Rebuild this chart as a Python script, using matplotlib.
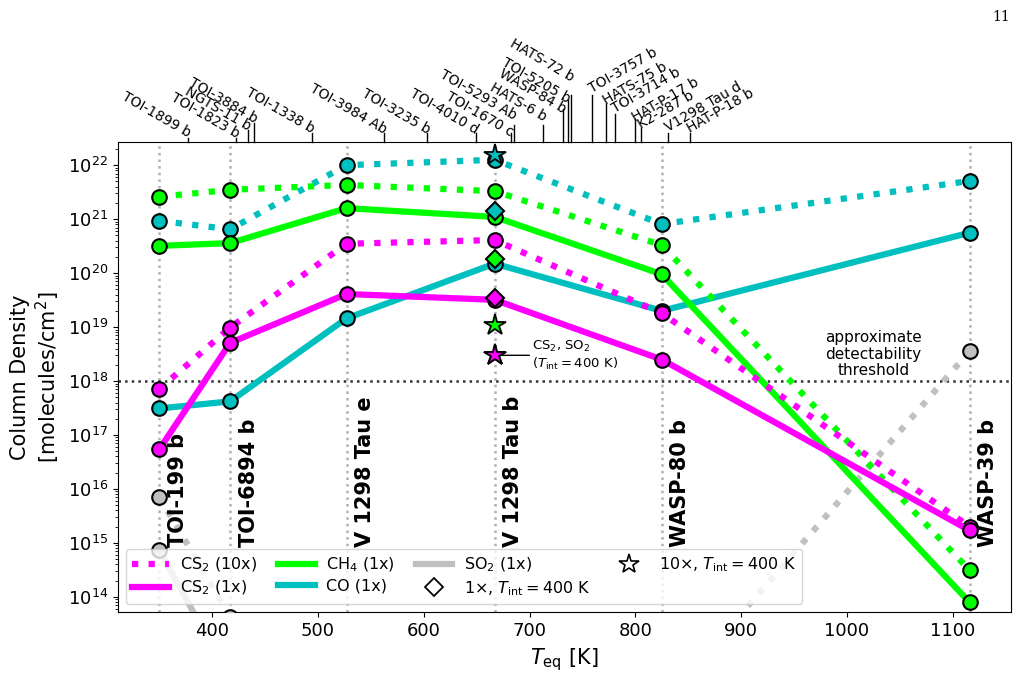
import numpy as np
import matplotlib
matplotlib.use('Agg')
import matplotlib.pyplot as plt
from matplotlib.lines import Line2D
from matplotlib.transforms import blended_transform_factory

# planets with chemistry models
planets = ['TOI-199 b', 'TOI-6894 b', 'V 1298 Tau e', 'V 1298 Tau b', 'WASP-80 b', 'WASP-39 b']
teq = [350, 417, 527, 667, 825, 1116]

# column densities [molecules/cm^2]
cs2_10x = [7.1e17, 9.8e18, 3.5e20, 4.1e20, 1.8e19, 2.0e15]
cs2_1x = [5.4e16, 5.1e18, 4.1e19, 3.2e19, 2.5e18, 1.7e15]
ch4_10x = [2.6e21, 3.5e21, 4.3e21, 3.3e21, 3.3e20, 3.1e14]
ch4_1x = [3.2e20, 3.6e20, 1.6e21, 1.1e21, 9.5e19, 7.9e13]
co_10x = [9.3e20, 6.5e20, 1.0e22, 1.26e22, 8.1e20, 5.1e21]
co_1x = [3.1e17, 4.2e17, 1.45e19, 1.5e20, 2.0e19, 5.6e20]
so2_10x = [7.2e15, 4.3e13, 1e11, 1e11, 1e12, 3.6e18]
so2_1x = [7.4e14, 3e12, 1e11, 1e11, 1e11, 1e11]

# V1298 Tau b with T_int = 400 K
tint_teq = 667
tint_1x = {'CS2': 3.4e19, 'CH4': 1.86e20, 'CO': 1.4e21}
tint_10x = {'CS2': 3.0e18, 'SO2': 3.0e18, 'CH4': 1.1e19, 'CO': 1.55e22}

threshold = 1e18

# other planets marked along the top
top_names = ['TOI-1899 b', 'TOI-1823 b', 'NGTS-11 b', 'TOI-3884 b', 'TOI-1338 b', 'TOI-3984 Ab',
             'TOI-3235 b', 'TOI-4010 d', 'TOI-1670 c', 'TOI-5293 Ab', 'HATS-6 b', 'WASP-84 b',
             'TOI-5205 b', 'HATS-72 b', 'TOI-3757 b', 'HATS-75 b', 'TOI-3714 b', 'HAT-P-17 b',
             'K2-287 b', 'V1298 Tau d', 'HAT-P-18 b']
top_teq = [377, 423, 434, 440, 494, 562, 603, 649, 682, 685, 713, 732, 736, 739,
           759, 772, 781, 800, 805, 831, 852]
top_tick_h = [4.4, 4.4, 11.7, 19, 9.3, 9.3, 9.3, 9.3, 9, 16.7, 16.7, 32.7, 42, 47,
              47, 37.7, 28, 23, 14.3, 9.3, 9.3]
top_label_h = [4, 4, 11, 19, 9, 8, 8, 8, 5, 22, 20, 28, 39, 60, 49, 37, 29, 20, 13, 10, 9]

colors = {'CS2': '#ff00ff', 'CH4': '#00ff00', 'CO': '#00bfbf', 'SO2': '#c0c0c0'}

fig = plt.figure(figsize=(10.25, 6.8), dpi=100)
ax = fig.add_axes([0.1151, 0.1, 0.8712, 0.6912])

for x in teq:
    ax.axvline(x, color='#b0b0b0', ls=':', lw=1.8, zorder=0)
ax.axhline(threshold, color='#333333', ls=':', lw=1.8, zorder=1)

lw = 4.5
mk = dict(marker='o', ms=10.5, mec='k', mew=1.5)
series = [
    (so2_10x, 'SO2', ':'), (so2_1x, 'SO2', '-'),
    (co_10x, 'CO', ':'), (co_1x, 'CO', '-'),
    (ch4_10x, 'CH4', ':'), (ch4_1x, 'CH4', '-'),
    (cs2_10x, 'CS2', ':'), (cs2_1x, 'CS2', '-'),
]
for vals, sp, ls in series:
    ax.plot(teq, vals, color=colors[sp], ls=ls, lw=lw, zorder=3, **mk)

for sp, v in tint_1x.items():
    ax.plot(tint_teq, v, marker='D', ms=9, mfc=colors[sp], mec='k', mew=1.5, zorder=5)
for sp in ['SO2', 'CS2', 'CH4', 'CO']:
    ax.plot(tint_teq, tint_10x[sp], marker='*', ms=16, mfc=colors[sp], mec='k', mew=1.3, zorder=5)

ax.annotate('CS$_2$, SO$_2$\n($T_{\\rm int} = 400$ K)', xy=(tint_teq, tint_10x['CS2']),
            xytext=(27, 0), textcoords='offset points', ha='left', va='center', fontsize=9.5,
            arrowprops=dict(arrowstyle='-', color='k', lw=1, shrinkA=0, shrinkB=2))

ax.text(1025, threshold * 1.12, 'approximate\ndetectability\nthreshold', ha='center',
        va='bottom', fontsize=11, linespacing=1.15)

for x, name in zip(teq, planets):
    ax.text(x + 8, 8.5e14, name, rotation=90, ha='left', va='bottom', fontsize=15,
            fontweight='bold')

# top ticks for other planets
trans = blended_transform_factory(ax.transData, ax.transAxes)
ax_h = 0.6912 * 680
for name, x, th, lh in zip(top_names, top_teq, top_tick_h, top_label_h):
    ax.plot([x, x], [1, 1 + th / ax_h], color='k', lw=1, transform=trans, clip_on=False)
    if x < 750:
        rot, ha = -30, 'right'
    else:
        rot, ha = 30, 'left'
    ax.annotate(name, xy=(x, 1), xycoords=trans, xytext=(0, lh * 0.72),
                textcoords='offset points', rotation=rot, ha=ha, va='baseline',
                rotation_mode='anchor', fontsize=10)

ax.set_yscale('log')
ax.set_xlim(311, 1155)
ax.set_ylim(10**13.72, 10**22.43)
ax.set_xticks([400, 500, 600, 700, 800, 900, 1000, 1100])
ax.tick_params(axis='both', which='major', labelsize=13)
ax.set_xlabel('$T_{\\rm eq}$ [K]', fontsize=15, labelpad=5)
ax.set_ylabel('Column Density\n[molecules/cm$^2$]', fontsize=15)

handles = [
    Line2D([], [], color=colors['CS2'], ls=':', lw=lw),
    Line2D([], [], color=colors['CS2'], ls='-', lw=lw),
    Line2D([], [], color=colors['CH4'], ls='-', lw=lw),
    Line2D([], [], color=colors['CO'], ls='-', lw=lw),
    Line2D([], [], color=colors['SO2'], ls='-', lw=lw),
    Line2D([], [], ls='none', marker='D', ms=9, mfc='w', mec='k', mew=1.3),
    Line2D([], [], ls='none', marker='*', ms=15, mfc='w', mec='k', mew=1.2),
]
labels = ['CS$_2$ (10x)', 'CS$_2$ (1x)', 'CH$_4$ (1x)', 'CO (1x)', 'SO$_2$ (1x)',
          '1$\\times$, $T_{\\rm int} = 400$ K', '10$\\times$, $T_{\\rm int} = 400$ K']
ax.legend(handles, labels, loc='lower left', ncol=4, fontsize=11.5, handlelength=2.3,
          borderaxespad=0.5, labelspacing=0.3, columnspacing=1.3, handletextpad=0.7)

fig.text(0.985, 0.985, '11', family='DejaVu Serif', fontsize=10, ha='right', va='top')

fig.savefig('out.png', dpi=100)
